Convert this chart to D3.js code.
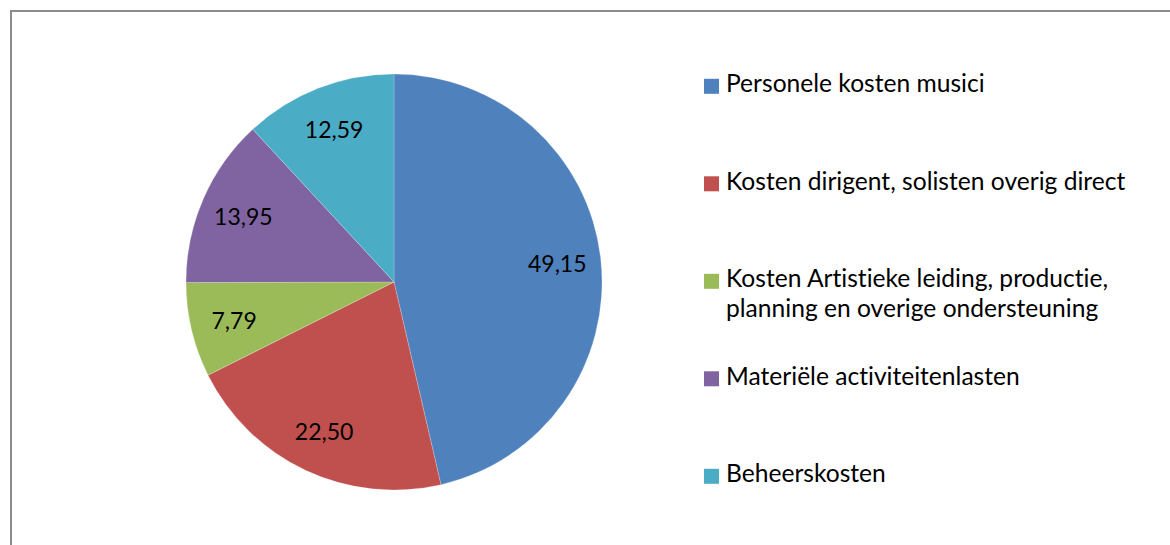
<!DOCTYPE html>
<html>
<head>
<meta charset="utf-8">
<script src="https://cdn.jsdelivr.net/npm/d3@7"></script>
<style>
  html, body { margin: 0; padding: 0; background: #ffffff; }
  .font { font-family: Lato, "Open Sans", sans-serif; font-variant-ligatures: none; }
</style>
</head>
<body>
<svg id="chart"></svg>
<script>
const SVG_WIDTH = 1170;
const SVG_HEIGHT = 545;
const LABEL_FONT_SIZE = 23;
const LEGEND_FONT_SIZE = 24.6;

const categories = [
    "Personele kosten musici",
    "Kosten dirigent, solisten overig direct",
    "Kosten Artistieke leiding, productie, planning en overige ondersteuning",
    "Materiële activiteitenlasten",
    "Beheerskosten"
];
// legend text split into the lines as shown in the picture
const legendLines = [
    ["Personele kosten musici"],
    ["Kosten dirigent, solisten overig direct"],
    ["Kosten Artistieke leiding, productie,", "planning en overige ondersteuning"],
    ["Materiële activiteitenlasten"],
    ["Beheerskosten"]
];
const values = [49.15, 22.50, 7.79, 13.95, 12.59];
const colors = ["#4F81BD", "#C0504D", "#9BBB59", "#8064A2", "#4BACC6"];

var data = categories.map(function(c, i) {
    return {key: c, value: values[i], lines: legendLines[i]};
});

var svg = d3.select("#chart")
    .attr("width", SVG_WIDTH)
    .attr("height", SVG_HEIGHT);

// chart frame (right and bottom edges fall outside the picture)
svg.append("rect")
    .attr("x", 11)
    .attr("y", 11)
    .attr("width", SVG_WIDTH + 20)
    .attr("height", SVG_HEIGHT + 20)
    .attr("fill", "none")
    .attr("stroke", "#8c8c8c")
    .attr("stroke-width", 2);

const CX = 394, CY = 282, RADIUS = 208;

var color = d3.scaleOrdinal()
    .domain(categories)
    .range(colors);

var pie = d3.pie()
    .sort(null)
    .value(function(d) { return d.value; });
var arcs = pie(data);

var arc = d3.arc()
    .innerRadius(0)
    .outerRadius(RADIUS);
var labelArc = d3.arc()
    .innerRadius(RADIUS * 0.79)
    .outerRadius(RADIUS * 0.79);

var pieGroup = svg.append("g")
    .attr("transform", "translate(" + CX + "," + CY + ")");

pieGroup.selectAll("path")
    .data(arcs)
    .enter()
    .append("path")
    .attr("d", arc)
    .attr("fill", function(d) { return color(d.data.key); })
    .attr("stroke", "#ffffff")
    .attr("stroke-opacity", 0.35)
    .attr("stroke-width", 0.6);

var numFormat = function(v) {
    return v.toFixed(2).replace(".", ",");
};
pieGroup.selectAll("text")
    .data(arcs)
    .enter()
    .append("text")
    .classed("font", true)
    .attr("transform", function(d) {
        return "translate(" + labelArc.centroid(d) + ")";
    })
    .attr("text-anchor", "middle")
    .attr("dominant-baseline", "central")
    .attr("font-size", LABEL_FONT_SIZE)
    .attr("fill", "#000000")
    .text(function(d) { return numFormat(d.data.value); });

// legend: first-line baselines evenly spaced
var legendY = d3.scalePoint()
    .domain(categories)
    .range([92.3, 482.3]);
const LEGEND_X = 704, SWATCH = 15, LINE_HEIGHT = 29.4;

var legend = svg.append("g")
    .selectAll("g")
    .data(data)
    .enter()
    .append("g")
    .attr("transform", function(d) {
        return "translate(" + LEGEND_X + "," + legendY(d.key) + ")";
    });
legend.append("rect")
    .attr("x", 0)
    .attr("y", -13.5)
    .attr("width", SWATCH)
    .attr("height", SWATCH)
    .attr("fill", function(d) { return color(d.key); });
legend.each(function(d) {
    var t = d3.select(this).append("text")
        .classed("font", true)
        .attr("font-size", LEGEND_FONT_SIZE)
        .attr("fill", "#000000");
    d.lines.forEach(function(line, i) {
        t.append("tspan")
            .attr("x", 22)
            .attr("y", i * LINE_HEIGHT)
            .text(line);
    });
});
</script>
</body>
</html>
